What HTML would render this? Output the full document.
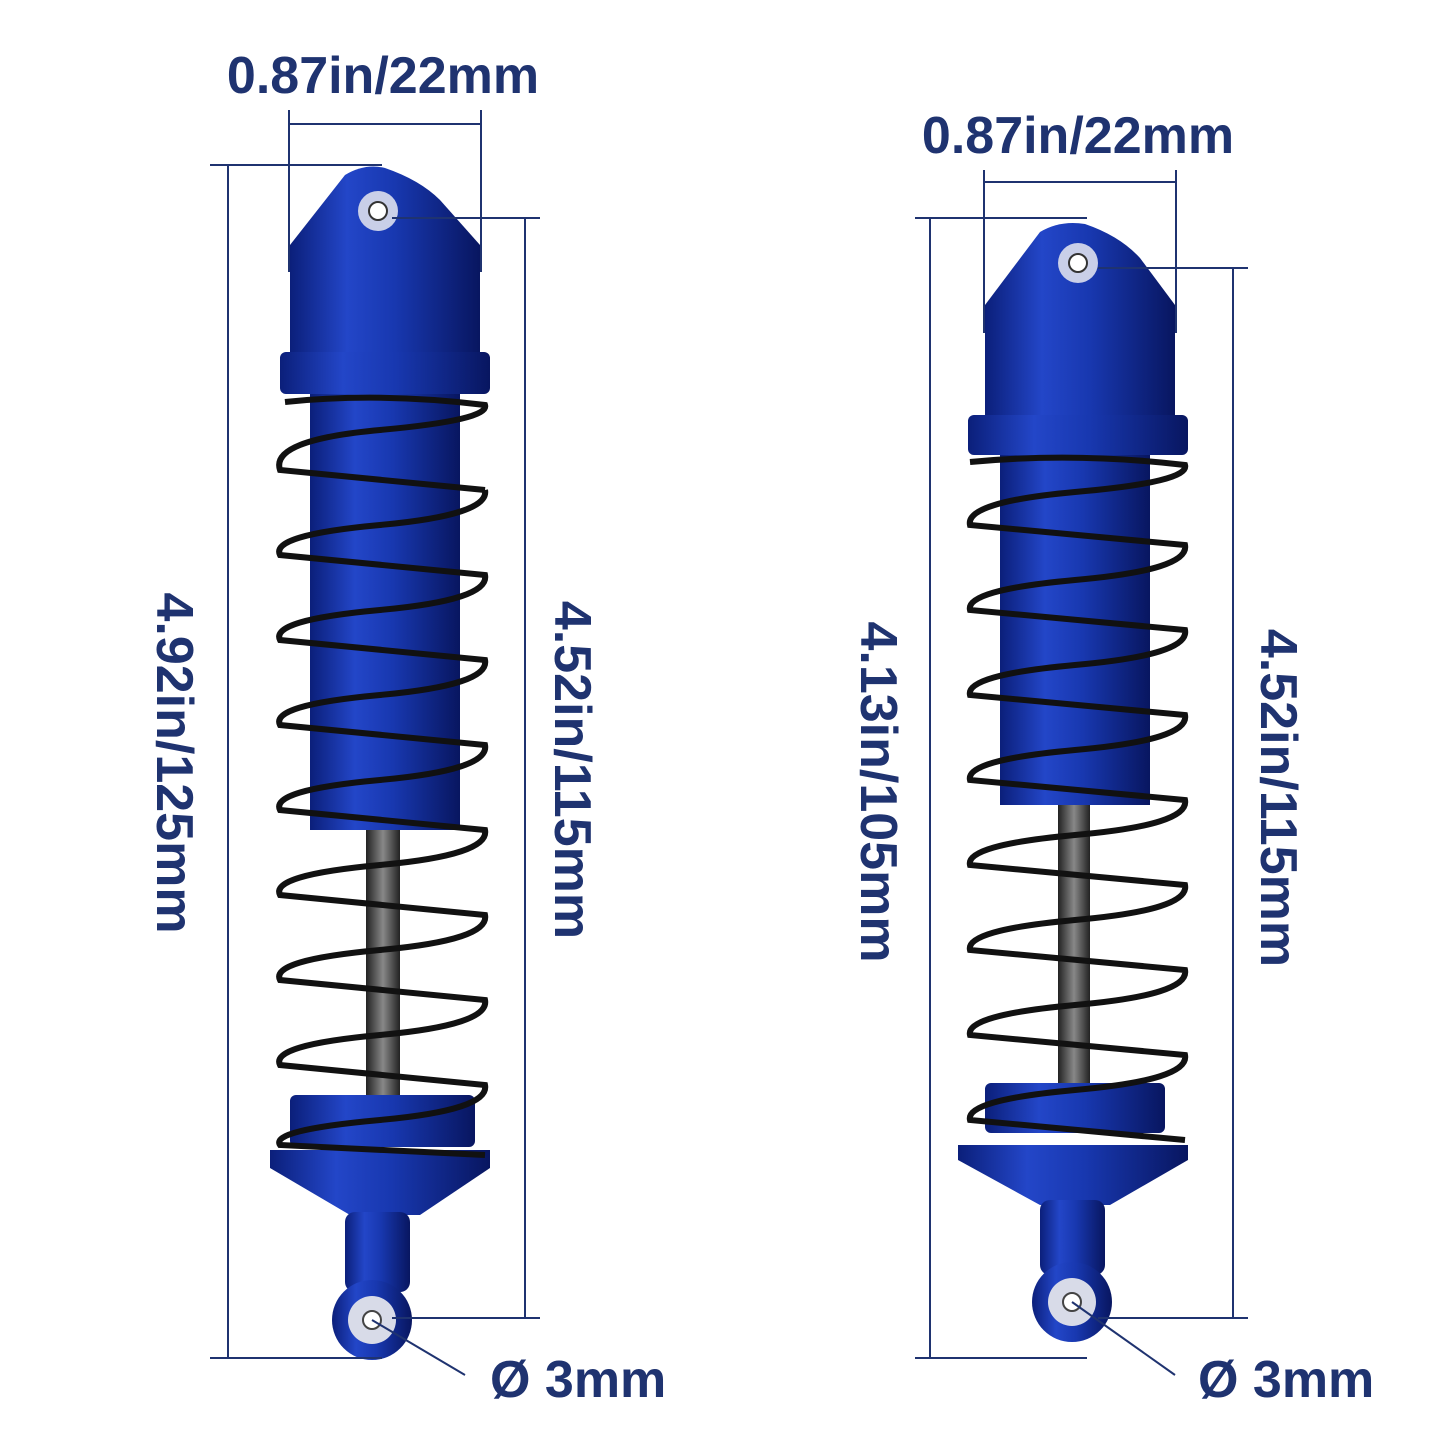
<!DOCTYPE html>
<html><head><meta charset="utf-8"><style>
html,body{margin:0;padding:0;background:#fff;}
svg{display:block;}
text{font-family:"Liberation Sans",sans-serif;font-weight:bold;fill:#1f3370;}
</style></head><body>
<svg width="1445" height="1445" viewBox="0 0 1445 1445" xmlns="http://www.w3.org/2000/svg">
<defs>
<linearGradient id="b" x1="0" x2="1" y1="0" y2="0">
<stop offset="0" stop-color="#0b1f7a"/><stop offset="0.3" stop-color="#2346c8"/><stop offset="0.55" stop-color="#1838b0"/><stop offset="1" stop-color="#081660"/>
</linearGradient>
<linearGradient id="r" x1="0" x2="1"><stop offset="0" stop-color="#222"/><stop offset="0.5" stop-color="#888"/><stop offset="1" stop-color="#222"/></linearGradient>
</defs>

<!-- LEFT SHOCK -->
<g>
<path d="M290,270 L290,245 L345,175 Q365,163 385,168 Q420,180 440,200 L480,245 L480,270 Z" fill="url(#b)"/>
<rect x="290" y="265" width="190" height="90" fill="url(#b)"/>
<circle cx="378" cy="211" r="20" fill="#c9cfe8"/><circle cx="378" cy="211" r="9" fill="#fff" stroke="#333" stroke-width="2"/>
<rect x="280" y="352" width="210" height="42" rx="6" fill="url(#b)"/>
<rect x="310" y="394" width="150" height="436" fill="url(#b)"/>
<rect x="366" y="830" width="34" height="270" fill="url(#r)"/>
<rect x="290" y="1095" width="185" height="52" rx="6" fill="url(#b)"/>
<path d="M270,1150 L490,1150 L490,1168 L420,1215 L350,1215 L270,1168 Z" fill="url(#b)"/>
<rect x="345" y="1212" width="65" height="80" rx="10" fill="url(#b)"/>
<circle cx="372" cy="1320" r="40" fill="url(#b)"/>
<circle cx="372" cy="1320" r="24" fill="#d8dbe8"/><circle cx="372" cy="1320" r="9" fill="#fff" stroke="#444" stroke-width="2"/>
<g fill="none" stroke="#111" stroke-width="6">
<path d="M285,402 Q380,392 485,405 Q490,420 380,430 Q270,440 280,470 Q380,480 485,490"/>
<path d="M485,490 Q490,515 380,525 Q270,535 280,555 Q380,565 485,575 Q490,600 380,610 Q270,620 280,640 Q380,650 485,660 Q490,685 380,695 Q270,705 280,725 Q380,735 485,745 Q490,770 380,780 Q270,790 280,810 Q380,820 485,830 Q490,855 380,865 Q270,875 280,895 Q380,905 485,915 Q490,940 380,950 Q270,960 280,980 Q380,990 485,1000 Q490,1025 380,1035 Q270,1045 280,1065 Q380,1075 485,1085 Q490,1110 380,1120 Q270,1130 280,1145 Q380,1150 485,1155"/>
</g>
</g>

<!-- RIGHT SHOCK -->
<g>
<path d="M985,330 L985,305 L1040,232 Q1060,220 1085,224 Q1120,236 1140,258 L1175,305 L1175,330 Z" fill="url(#b)"/>
<rect x="985" y="325" width="190" height="90" fill="url(#b)"/>
<circle cx="1078" cy="263" r="20" fill="#c9cfe8"/><circle cx="1078" cy="263" r="9" fill="#fff" stroke="#333" stroke-width="2"/>
<rect x="968" y="415" width="220" height="40" rx="6" fill="url(#b)"/>
<rect x="1000" y="455" width="150" height="350" fill="url(#b)"/>
<rect x="1058" y="805" width="32" height="285" fill="url(#r)"/>
<rect x="985" y="1083" width="180" height="50" rx="6" fill="url(#b)"/>
<path d="M958,1145 L1188,1145 L1188,1160 L1110,1205 L1040,1205 L958,1160 Z" fill="url(#b)"/>
<rect x="1040" y="1200" width="65" height="75" rx="10" fill="url(#b)"/>
<circle cx="1072" cy="1302" r="40" fill="url(#b)"/>
<circle cx="1072" cy="1302" r="24" fill="#d8dbe8"/><circle cx="1072" cy="1302" r="9" fill="#fff" stroke="#444" stroke-width="2"/>
<g fill="none" stroke="#111" stroke-width="6">
<path d="M970,462 Q1075,452 1185,465 Q1190,482 1075,492 Q965,502 970,525 Q1075,535 1185,545 Q1190,570 1075,580 Q965,590 970,610 Q1075,620 1185,630 Q1190,655 1075,665 Q965,675 970,695 Q1075,705 1185,715 Q1190,740 1075,750 Q965,760 970,780 Q1075,790 1185,800 Q1190,825 1075,835 Q965,845 970,865 Q1075,875 1185,885 Q1190,910 1075,920 Q965,930 970,950 Q1075,960 1185,970 Q1190,995 1075,1005 Q965,1015 970,1035 Q1075,1045 1185,1055 Q1190,1080 1075,1090 Q965,1100 970,1120 Q1075,1130 1185,1140"/>
</g>
</g>

<!-- DIMENSIONS -->
<g stroke="#1f3370" stroke-width="2" fill="none">
<line x1="289" y1="110" x2="289" y2="272"/><line x1="481" y1="110" x2="481" y2="272"/><line x1="289" y1="124" x2="481" y2="124"/>
<line x1="228" y1="165" x2="228" y2="1358"/><line x1="210" y1="165" x2="382" y2="165"/><line x1="210" y1="1358" x2="382" y2="1358"/>
<line x1="525" y1="218" x2="525" y2="1318"/><line x1="392" y1="218" x2="540" y2="218"/><line x1="392" y1="1318" x2="540" y2="1318"/>
<line x1="372" y1="1320" x2="465" y2="1375"/>
<line x1="984" y1="170" x2="984" y2="333"/><line x1="1176" y1="170" x2="1176" y2="333"/><line x1="984" y1="182" x2="1176" y2="182"/>
<line x1="930" y1="218" x2="930" y2="1358"/><line x1="915" y1="218" x2="1087" y2="218"/><line x1="915" y1="1358" x2="1087" y2="1358"/>
<line x1="1233" y1="268" x2="1233" y2="1318"/><line x1="1098" y1="268" x2="1248" y2="268"/><line x1="1098" y1="1318" x2="1248" y2="1318"/>
<line x1="1072" y1="1302" x2="1175" y2="1375"/>
</g>
<g font-size="52">
<text x="383" y="93" text-anchor="middle">0.87in/22mm</text>
<text x="1078" y="153" text-anchor="middle">0.87in/22mm</text>
<text x="490" y="1397">Ø 3mm</text>
<text x="1198" y="1397">Ø 3mm</text>
<text transform="translate(157,763) rotate(90)" text-anchor="middle">4.92in/125mm</text>
<text transform="translate(555,770) rotate(90)" text-anchor="middle">4.52in/115mm</text>
<text transform="translate(861,792) rotate(90)" text-anchor="middle">4.13in/105mm</text>
<text transform="translate(1261,798) rotate(90)" text-anchor="middle">4.52in/115mm</text>
</g>
</svg>
</body></html>
